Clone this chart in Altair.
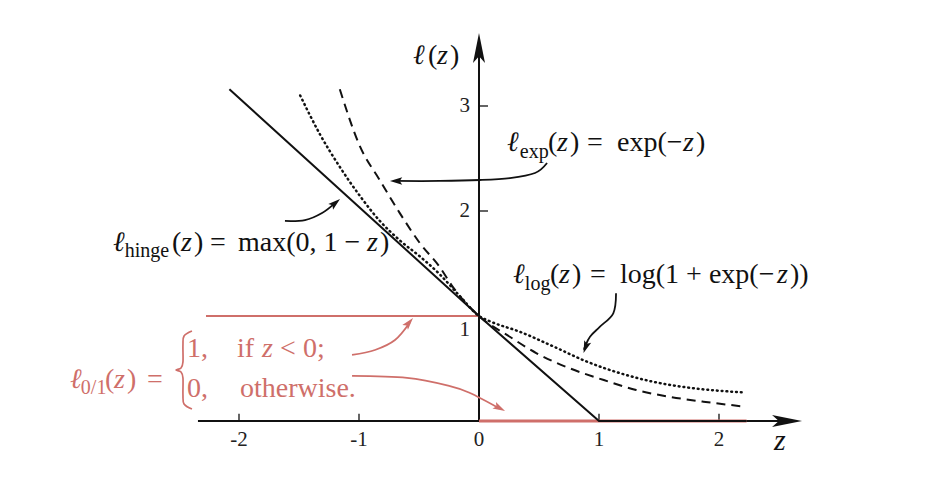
import altair as alt
import pandas as pd

# ---------------- data ----------------
# hinge loss (solid)
hinge_z = [-2.08, 0.0, 1.0, 2.23]
hinge_l = [3.16, 1.0, 0.0, 0.0]

# exponential loss (dashed)
exp_z = [-1.16, -0.99, -0.83, -0.66, -0.49, -0.33, -0.22, 0.0,
         0.26, 0.48, 0.76, 1.04, 1.31, 1.59, 1.87, 2.22]
exp_l = [3.16, 2.61, 2.30, 1.98, 1.69, 1.47, 1.28, 1.0,
         0.80, 0.645, 0.50, 0.39, 0.295, 0.23, 0.184, 0.136]

# logistic loss (dotted)
log_z = [-1.49, -1.33, -1.16, -0.99, -0.83, -0.66, -0.49, -0.33, -0.16, 0.0,
         0.09, 0.34, 0.62, 0.90, 1.18, 1.45, 1.73, 2.19]
log_l = [3.10, 2.74, 2.42, 2.14, 1.91, 1.72, 1.565, 1.40, 1.19, 1.0,
         0.95, 0.85, 0.71, 0.565, 0.454, 0.374, 0.32, 0.273]

# 0/1 loss (red)
zo_top_z = [-2.275, 0.0]
zo_top_l = [1.0, 1.0]
zo_bot_z = [0.0, 2.23]
zo_bot_l = [0.0, 0.0]

# axis ticks
xtick_vals = [-2, -1, 0, 1, 2]
xtick_labels = ["-2", "-1", "0", "1", "2"]
ytick_vals = [2, 3]
ylab_text = ["1", "2", "3"]
ylab_pos = [0.867, 2.0, 3.0]

RED = "#cf6f6a"
BLACK = "#111111"
FONT = "'Liberation Serif', 'DejaVu Serif', serif"

XD = [-3.925, 3.7167]
YD = [-0.6667, 3.9333]
xs = alt.Scale(domain=XD, nice=False, zero=False)
ys = alt.Scale(domain=YD, nice=False, zero=False)


def X(f="z"):
    return alt.X(f + ":Q", scale=xs, axis=None)


def Y(f="l"):
    return alt.Y(f + ":Q", scale=ys, axis=None)


def line(zs, ls, color, width, dash=None, interp="linear", cap="butt"):
    df = pd.DataFrame({"z": zs, "l": ls, "i": list(range(len(zs)))})
    kw = dict(color=color, strokeWidth=width, interpolate=interp, strokeCap=cap)
    if dash:
        kw["strokeDash"] = dash
    return alt.Chart(df).mark_line(**kw).encode(x=X(), y=Y(), order="i:Q")


def texts(rows, italic=False, align="left", baseline="alphabetic"):
    df = pd.DataFrame(rows, columns=["t", "z", "l", "s", "c"])
    kw = dict(align=align, baseline=baseline, font=FONT)
    if italic:
        kw["fontStyle"] = "italic"
    return alt.Chart(df).mark_text(**kw).encode(
        x=X(), y=Y(), text="t:N",
        size=alt.Size("s:Q", scale=None),
        color=alt.Color("c:N", scale=None))


# ---------------- axes ----------------
axis_x = line([-2.342, 2.6], [0, 0], BLACK, 2)
axis_y = line([0, 0], [0, 3.6], BLACK, 2)

xt_df = pd.DataFrame({"z": [v for v in xtick_vals if v != 0]})
xticks = alt.Chart(xt_df).mark_rule(color=BLACK, strokeWidth=1.3).encode(
    x=X(), y=alt.Y("a:Q", scale=ys, axis=None), y2="b:Q").transform_calculate(a="0", b="0.07")
yt_df = pd.DataFrame({"l": ytick_vals})
yticks = alt.Chart(yt_df).mark_rule(color=BLACK, strokeWidth=1.3).encode(
    y=Y(), x=alt.X("a:Q", scale=xs, axis=None), x2="b:Q").transform_calculate(a="0", b="0.075")

xlab = texts([(t, v, -0.185, 21, "#222") for t, v in zip(xtick_labels, xtick_vals)],
             align="center", baseline="middle")
ylab = texts([(t, -0.075, v, 21, "#222") for t, v in zip(ylab_text, ylab_pos)],
             align="right", baseline="middle")

# arrowheads: tip at the data point
AX_HEAD = "M0,0L0.4,2L0,1.55L-0.4,2Z"
AN_HEAD = "M0,0L0.6,2L0,1.6L-0.6,2Z"


def heads(rows, path, size):
    df = pd.DataFrame(rows, columns=["z", "l", "a", "c"])
    return alt.Chart(df).mark_point(shape=path, filled=True, size=size, opacity=1, strokeWidth=0).encode(
        x=X(), y=Y(), angle=alt.Angle("a:Q", scale=None), color=alt.Color("c:N", scale=None))


axis_heads = heads([(2.692, 0.0, 90, BLACK), (0.0, 3.695, 0, BLACK)], AX_HEAD, 900)
ann_heads = heads([(-0.742, 2.286, 270, BLACK), (-1.158, 2.114, 50, BLACK),
                   (0.871, 0.648, 200, BLACK), (-0.55, 0.981, 40, RED),
                   (0.217, 0.095, 118, RED)], AN_HEAD, 150)

# annotation arrow shafts
arr_exp = line([0.567, 0.467, 0.258, 0.008, -0.325, -0.70], [2.457, 2.362, 2.314, 2.295, 2.286, 2.286],
               BLACK, 1.8, interp="cardinal")
arr_hinge = line([-1.617, -1.45, -1.308, -1.19], [1.905, 1.914, 1.981, 2.085], BLACK, 1.8, interp="cardinal")
arr_log = line([1.142, 1.119, 1.008, 0.925, 0.883, 0.875], [1.216, 1.026, 0.898, 0.803, 0.708, 0.68],
               BLACK, 1.8, interp="cardinal")
arr_r1 = line([-1.058, -0.867, -0.70, -0.575], [0.629, 0.676, 0.771, 0.94], RED, 1.8, interp="cardinal")
arr_r2 = line([-1.058, -0.60, -0.242, -0.075, 0.17], [0.429, 0.41, 0.333, 0.267, 0.12], RED, 1.8,
              interp="cardinal")

# brace for the 0/1 definition
brace = line([-2.392, -2.458, -2.467, -2.467, -2.483, -2.525, -2.483, -2.467, -2.467, -2.458, -2.392],
             [0.857, 0.810, 0.724, 0.562, 0.505, 0.486, 0.467, 0.410, 0.248, 0.162, 0.114],
             RED, 1.7, interp="cardinal")

# ---------------- formula texts ----------------
M, S = 28, 20
up_rows = [
    # exp label
    ("exp", 0.34, 2.505, S, BLACK), ("(", 0.575, 2.571, M, BLACK), (")", 0.758, 2.571, M, BLACK),
    ("=", 0.90, 2.571, M, BLACK), ("exp(\u2212", 1.15, 2.571, M, BLACK), (")", 1.808, 2.571, M, BLACK),
    # log label
    ("log", 0.382, 1.248, S, BLACK), ("(", 0.592, 1.314, M, BLACK), (")", 0.775, 1.314, M, BLACK),
    ("=", 0.925, 1.314, M, BLACK), ("log(1 + exp(\u2212", 1.175, 1.314, M, BLACK), ("))", 2.592, 1.314, M, BLACK),
    # hinge label
    ("hinge", -2.952, 1.562, S, BLACK), ("(", -2.558, 1.619, M, BLACK), (")", -2.375, 1.619, M, BLACK),
    ("=", -2.242, 1.619, M, BLACK), ("max(0, 1 \u2212", -2.008, 1.619, M, BLACK), (")", -0.825, 1.619, M, BLACK),
    # 0/1 label
    ("0/1", -3.318, 0.257, S, RED), ("(", -3.117, 0.314, M, RED), (")", -2.933, 0.314, M, RED),
    ("=", -2.767, 0.314, M, RED),
    ("1,", -2.433, 0.61, M, RED), ("if", -2.017, 0.61, M, RED), ("<", -1.658, 0.61, M, RED),
    ("0;", -1.467, 0.61, M, RED),
    ("0,", -2.433, 0.229, M, RED), ("otherwise.", -1.992, 0.229, M, RED),
    # y axis title
    ("(", -0.425, 3.40, M, BLACK), (")", -0.242, 3.40, M, BLACK),
]
it_rows = [
    ("\u2113", 0.233, 2.571, M, BLACK), ("z", 0.65, 2.571, M, BLACK), ("z", 1.70, 2.571, M, BLACK),
    ("\u2113", 0.283, 1.314, M, BLACK), ("z", 0.667, 1.314, M, BLACK), ("z", 2.483, 1.314, M, BLACK),
    ("\u2113", -3.05, 1.619, M, BLACK), ("z", -2.483, 1.619, M, BLACK), ("z", -0.933, 1.619, M, BLACK),
    ("\u2113", -3.408, 0.314, M, RED), ("z", -3.042, 0.314, M, RED), ("z", -1.808, 0.61, M, RED),
    ("\u2113", -0.55, 3.40, M, BLACK), ("z", -0.35, 3.40, M, BLACK),
]
t_up = texts(up_rows)
t_it = texts(it_rows, italic=True)
zlab = texts([("z", 2.508, -0.19, 30, BLACK)], italic=True, align="center", baseline="middle")

chart = alt.layer(
    axis_x, axis_y, xticks, yticks, axis_heads,
    line(zo_top_z, zo_top_l, RED, 2),
    line(zo_bot_z, zo_bot_l, RED, 3),
    line(hinge_z, hinge_l, BLACK, 2),
    line(exp_z, exp_l, BLACK, 2, dash=[9, 6], interp="monotone"),
    line(log_z, log_l, BLACK, 2.5, dash=[0.8, 4], interp="monotone", cap="round"),
    arr_exp, arr_hinge, arr_log, arr_r1, arr_r2, brace, ann_heads,
    xlab, ylab, t_up, t_it, zlab,
).properties(
    width=917, height=483, autosize=alt.AutoSizeParams(type="none"), padding=0
).configure_view(stroke=None)

chart.save("out.html", embed_options={"renderer": "svg", "actions": False})
